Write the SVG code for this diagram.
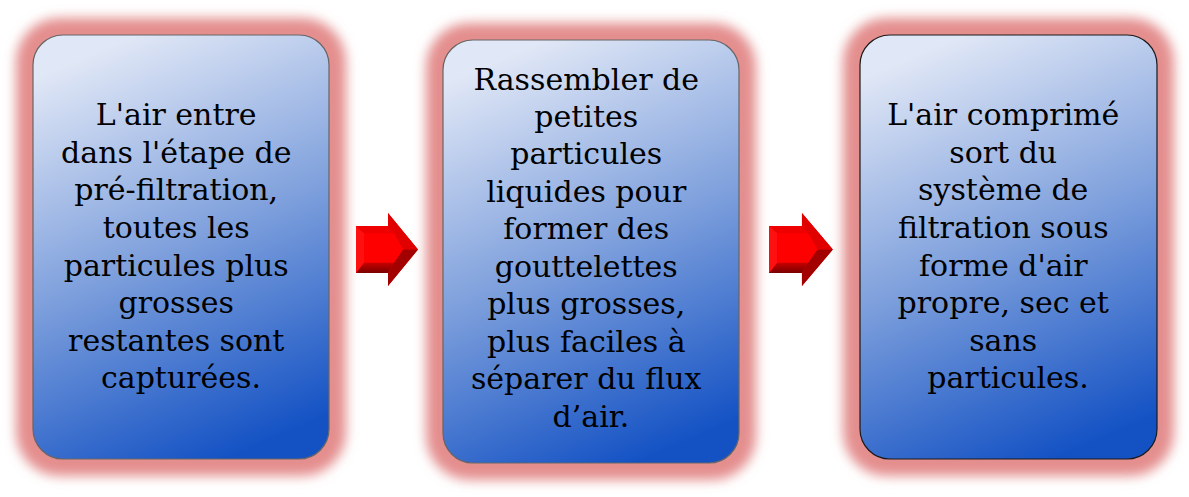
<svg xmlns="http://www.w3.org/2000/svg" width="1189" height="497" viewBox="0 0 1189 497">
<defs>
<linearGradient id="boxGrad" x1="0.35" y1="0" x2="0.65" y2="1">
<stop offset="0" stop-color="#e0e7f6"/>
<stop offset="0.5" stop-color="#7d9fdc"/>
<stop offset="1" stop-color="#1452c4"/>
</linearGradient>
<filter id="glow" x="-20%" y="-20%" width="140%" height="140%">
<feGaussianBlur stdDeviation="6"/>
</filter>
<linearGradient id="bevDark" x1="0" y1="0" x2="0" y2="1">
<stop offset="0" stop-color="#c80000"/>
<stop offset="1" stop-color="#7a0000"/>
</linearGradient>
</defs>
<style>
.glow{fill:#e48e8e;filter:url(#glow);}
.box{fill:url(#boxGrad);stroke:#666;stroke-width:1.2;}
.box3{stroke:#1a1a1a;}
.t{font-family:"DejaVu Serif","Liberation Serif",serif;font-size:30px;fill:#000;text-anchor:middle;}
</style>
<rect width="1189" height="497" fill="#fff"/>

<g id="node1">
<rect class="glow" x="16" y="18" width="330" height="458" rx="44"/>
<rect class="box" x="33" y="35" width="296" height="424" rx="30"/>
<text class="t">
<tspan x="181" y="125">L'air entre</tspan>
<tspan x="181" y="163">dans l'étape de</tspan>
<tspan x="181" y="200">pré-filtration,</tspan>
<tspan x="181" y="238">toutes les</tspan>
<tspan x="181" y="276">particules plus</tspan>
<tspan x="181" y="313">grosses</tspan>
<tspan x="181" y="351">restantes sont</tspan>
<tspan x="181" y="388">capturées.</tspan>
</text>
</g>

<g id="node2">
<rect class="glow" x="426" y="23" width="330" height="457" rx="44"/>
<rect class="box" x="443" y="40" width="296" height="423" rx="30"/>
<text class="t">
<tspan x="591" y="90">Rassembler de</tspan>
<tspan x="591" y="127">petites</tspan>
<tspan x="591" y="164">particules</tspan>
<tspan x="591" y="202">liquides pour</tspan>
<tspan x="591" y="239">former des</tspan>
<tspan x="591" y="277">gouttelettes</tspan>
<tspan x="591" y="314">plus grosses,</tspan>
<tspan x="591" y="352">plus faciles à</tspan>
<tspan x="591" y="389">séparer du flux</tspan>
<tspan x="591" y="427">d’air.</tspan>
</text>
</g>

<g id="node3">
<rect class="glow" x="843" y="18" width="331" height="458" rx="44"/>
<rect class="box box3" x="860" y="35" width="297" height="424" rx="30"/>
<text class="t">
<tspan x="1008" y="125">L'air comprimé</tspan>
<tspan x="1008" y="163">sort du</tspan>
<tspan x="1008" y="200">système de</tspan>
<tspan x="1008" y="238">filtration sous</tspan>
<tspan x="1008" y="276">forme d'air</tspan>
<tspan x="1008" y="313">propre, sec et</tspan>
<tspan x="1008" y="351">sans</tspan>
<tspan x="1008" y="388">particules.</tspan>
</text>
</g>

<g id="connectors">
<defs>
<g id="arrow">
<polygon points="0,-23.5 32,-23.5 32,-36.5 62,0 32,36.5 32,23.5 0,23.5" fill="#ff0000"/>
<polygon points="0,-23.5 32,-23.5 38,-16 8,-16" fill="#ee0000"/>
<polygon points="32,-36.5 62,0 47,0 38,-16 32,-23.5" fill="#e00000"/>
<polygon points="0,23.5 8,13 38,13 32,23.5" fill="url(#bevDark)"/>
<polygon points="32,36.5 62,0 47,0 38,13 32,23.5" fill="#a30000"/>
<polygon points="0,-23.5 8,-16 8,13 0,23.5" fill="#ff1010"/>
<polygon points="8,-16 38,-16 47,0 38,13 8,13" fill="#ff0000"/>
</g>
</defs>
<use href="#arrow" transform="translate(356,249.5)"/>
<use href="#arrow" transform="translate(769,249.5) scale(1.03,1)"/>
</g>
</svg>
